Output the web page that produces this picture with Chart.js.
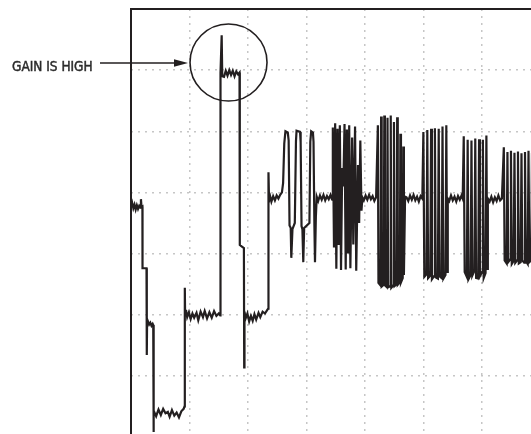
<!DOCTYPE html>
<html>
<head>
<meta charset="utf-8">
<title>Gain is high</title>
<script src="https://cdn.jsdelivr.net/npm/chart.js@4.4.1/dist/chart.umd.min.js"></script>
<style>
    html, body { margin: 0; padding: 0; background: #fff; overflow: hidden; }
    #scope { display: block; }
</style>
</head>
<body>
<canvas id="scope" width="560" height="460"></canvas>
<script>
// Trace: time and level in tenths of a division
const sampleTimes = [
    0, 0.2, 0.4, 0.6, 0.8, 1.0, 1.2, 1.4, 1.6, 1.7, 1.8, 1.95,
    1.97, 2.65, 2.7, 2.75, 2.9, 3.1, 3.3, 3.5, 3.7, 3.8,
    3.85, 3.87, 3.9, 4.3, 4.7, 5.1, 5.5, 5.9, 6.3, 6.6, 7.0, 7.4, 7.8, 8.2, 8.6, 9.0, 9.15,
    9.2, 9.25, 9.4, 9.6, 9.9, 10.2, 10.5, 10.8, 11.2, 11.5, 11.9, 12.3, 12.6, 13.0, 13.4, 13.8, 14.2, 14.6, 15.0, 15.25,
    15.3, 15.5, 15.6, 15.9, 16.2, 16.5, 16.8, 17.1, 17.4, 17.7, 18.0, 18.3, 18.55,
    18.6, 19.3, 19.35, 19.4, 19.6, 19.9, 20.2, 20.5, 20.8, 21.1, 21.4, 21.8, 22.1, 22.5, 22.9, 23.3, 23.45,
    23.5, 23.6, 23.8, 24.0, 24.3, 24.6, 24.9, 25.2, 25.5, 25.8,
    26.0, 26.2, 26.4, 26.8, 26.95, 27.1, 27.3, 27.4, 27.6,
    28.0, 28.2, 28.3, 28.9, 29.0, 29.15, 29.3, 29.45, 29.6,
    30.5, 30.65, 30.8, 31.1, 31.2, 31.35, 31.45, 31.6, 31.75,
    32.0, 32.3, 32.6, 32.9, 33.2, 33.5, 33.8, 34.1, 34.3,
    34.4, 34.5, 34.7, 34.9, 35.1, 35.3, 35.5, 35.7, 35.9, 36.1, 36.3, 36.5, 36.7, 36.9, 37.1, 37.3, 37.5, 37.8, 38.0, 38.3, 38.5, 38.8, 39.0, 39.2, 39.4, 39.55,
    39.8, 40.1, 40.4, 40.7, 41.0, 41.3, 41.6, 41.9,
    // burst 2
    42.2, 42.3,
    42.65, 42.75, 42.85,
    43.2, 43.3, 43.4,
    43.75, 43.85, 43.95,
    44.3, 44.4, 44.5,
    44.85, 44.95, 45.05,
    45.4, 45.5, 45.6,
    45.95, 46.05, 46.15,
    46.45, 46.55, 46.65,
    46.85,
    47.1, 47.4, 47.7, 48.0, 48.3, 48.6, 48.9, 49.2, 49.5, 49.8,
    // burst 3
    49.98, 50.14,
    50.51, 50.65, 50.79,
    51.16, 51.3, 51.44,
    51.81, 51.95, 52.09,
    52.46, 52.6, 52.74,
    53.11, 53.25, 53.39,
    53.76, 53.9, 54.04,
    54.15,
    54.4, 54.7, 55.0, 55.3, 55.6, 55.9, 56.2, 56.5, 56.7,
    // burst 4
    56.88, 57.04,
    57.41, 57.55, 57.69,
    58.06, 58.2, 58.34,
    58.71, 58.85, 58.99,
    59.36, 59.5, 59.64,
    60.01, 60.15, 60.29,
    60.61, 60.75, 60.89,
    61.0,
    61.3, 61.6, 61.9, 62.2, 62.5, 62.8, 63.1, 63.4,
    // burst 5
    63.73, 63.87,
    64.21, 64.35, 64.49,
    64.81, 64.95, 65.09,
    65.41, 65.55, 65.69,
    66.01, 66.15, 66.29,
    66.61, 66.75, 66.89,
    67.21, 67.35, 67.49,
    67.81, 67.95, 68.09,
    68.41, 68.55, 68.69,
    69.01, 69.15, 69.29,
    69.61, 69.75, 69.89,
    70.0
];

const sampleLevels = [
    37.6, 38.3, 37.4, 38.0, 37.2, 37.9, 37.3, 37.8, 37.5, 38.9, 37.6, 37.7,
    27.6, 27.6, 13.4, 18.8, 18.9, 18.4, 18.7, 18.2, 18.5, 18.3,
    3.6, 0.8, 4.3, 3.4, 4.5, 3.6, 4.6, 3.9, 4.1, 3.3, 4.4, 3.5, 4.0, 3.2, 4.2, 4.6, 5.0,
    24.4, 20.1, 20.8, 19.6, 20.4, 19.3, 20.2, 19.5, 20.3, 19.1, 20.5, 19.6, 20.6, 19.4, 20.4, 19.5, 20.6, 19.8, 20.2, 19.9,
    59.6, 65.7, 59.0, 58.9, 59.9, 59.1, 60.0, 59.2, 59.9, 59.0, 59.8, 59.3, 59.6,
    31.4, 30.9, 11.4, 20.5, 19.4, 20.2, 18.9, 19.8, 19.0, 20.1, 19.2, 20.3, 19.6, 20.5, 20.2, 20.8, 21.0,
    43.3, 38.6, 39.3, 38.5, 39.4, 38.7, 39.5, 39.0, 39.6, 40.0,
    41.5, 48.0, 50.0, 49.8, 48.5, 34.6, 34.2, 29.3, 34.0,
    35.0, 48.4, 50.1, 49.9, 48.2, 34.5, 34.0, 28.6, 34.2,
    35.0, 48.3, 50.0, 49.8, 48.3, 34.6, 28.6, 36.0, 39.3,
    38.6, 39.5, 38.8, 39.6, 38.7, 39.4, 38.9, 39.6, 39.0,
    38.8, 50.6, 31.0, 51.3, 27.5, 50.4, 31.4, 51.0, 27.3, 44.0, 41.0, 51.2, 27.4, 50.3, 30.0, 51.0, 27.6, 49.0, 31.5, 50.8, 27.2, 44.5, 35.0, 48.5, 37.0, 39.2,
    38.7, 39.5, 38.8, 39.6, 38.9, 39.4, 38.6, 39.2,
    // burst 2
    51.0, 25.2,
    24.8, 52.4, 24.6,
    24.9, 52.6, 24.8,
    24.5, 52.2, 24.5,
    24.7, 52.6, 24.4,
    24.8, 51.5, 24.7,
    25.0, 52.3, 24.9,
    25.3, 49.6, 25.3,
    26.0, 47.5, 26.5,
    39.3,
    39.2, 38.6, 39.5, 38.8, 39.6, 38.7, 39.3, 38.5, 39.4, 39.0,
    // burst 3
    49.9, 26.2,
    26.6, 50.2, 26.0,
    26.4, 50.4, 25.8,
    26.3, 50.5, 26.1,
    25.9, 50.4, 26.3,
    26.0, 50.8, 25.9,
    26.5, 51.0, 27.0,
    39.0,
    38.6, 39.5, 38.7, 39.3, 38.5, 39.4, 38.8, 39.5, 39.0,
    // burst 4
    49.2, 27.0,
    26.2, 48.6, 25.8,
    26.5, 48.5, 26.4,
    27.2, 48.8, 26.0,
    25.9, 48.7, 26.3,
    27.0, 48.6, 26.0,
    26.8, 49.3, 27.5,
    39.0,
    38.5, 39.3, 38.4, 39.2, 38.6, 39.5, 38.7, 39.0,
    // burst 5
    47.4, 28.9,
    28.4, 46.6, 28.6,
    29.0, 46.8, 28.3,
    28.8, 46.5, 28.5,
    28.9, 46.7, 28.4,
    28.6, 46.4, 28.9,
    28.5, 46.6, 28.8,
    28.3, 46.8, 28.6,
    28.9, 46.5, 28.4,
    28.7, 46.9, 28.5,
    28.8, 46.4, 28.6,
    30.0
];

// 7 x 7 divisions, no tick labels on the screen
const gridSteps = [0, 10, 20, 30, 40, 50, 60, 70];

// Callout around the overshoot
const noteLabel = 'GAIN IS HIGH';
const noteCenter = { x: 16.67, y: 61.25 };

const inkColor = '#231f20';
const gridColor = '#c6c6c6';

if (sampleTimes.length !== sampleLevels.length) {
    throw new Error('trace arrays differ: ' + sampleTimes.length + ' vs ' + sampleLevels.length);
}

const tracePoints = sampleTimes.map((t, i) => ({ x: t, y: sampleLevels[i] }));

// prefer a narrow face for the label if one is installed
function pickLabelFont(ctx) {
    const narrow = '15.5px "Liberation Sans Narrow"';
    ctx.font = narrow + ', monospace';
    const a = ctx.measureText(noteLabel).width;
    ctx.font = '15.5px monospace';
    const b = ctx.measureText(noteLabel).width;
    return a !== b ? narrow + ', sans-serif' : '13.5px "DejaVu Sans Condensed", sans-serif';
}

// Frame, circle, arrow and label drawn over the plot
const calloutPlugin = {
    id: 'callout',
    afterDraw(chart) {
        const { ctx, chartArea, scales } = chart;
        ctx.save();

        ctx.strokeStyle = inkColor;
        ctx.lineWidth = 2;
        ctx.strokeRect(chartArea.left, chartArea.top,
            chartArea.right - chartArea.left, chartArea.bottom - chartArea.top);

        const cx = scales.x.getPixelForValue(noteCenter.x);
        const cy = scales.y.getPixelForValue(noteCenter.y);
        const r = 38.5;
        ctx.lineWidth = 1.6;
        ctx.beginPath();
        ctx.arc(cx, cy, r, 0, Math.PI * 2);
        ctx.stroke();

        const arrowY = cy + 0.5;
        const tipX = cx - r - 2;
        ctx.beginPath();
        ctx.moveTo(100, arrowY);
        ctx.lineTo(tipX - 10, arrowY);
        ctx.stroke();
        ctx.fillStyle = inkColor;
        ctx.beginPath();
        ctx.moveTo(tipX, arrowY);
        ctx.lineTo(tipX - 14, arrowY - 3.8);
        ctx.lineTo(tipX - 14, arrowY + 3.8);
        ctx.closePath();
        ctx.fill();

        ctx.font = pickLabelFont(ctx);
        ctx.fillStyle = '#2b2b2b';
        ctx.strokeStyle = '#2b2b2b';
        ctx.lineWidth = 0.45;
        ctx.textBaseline = 'alphabetic';
        ctx.textAlign = 'left';
        ctx.fillText(noteLabel, 12, arrowY + 7.5);
        ctx.strokeText(noteLabel, 12, arrowY + 7.5);

        ctx.restore();
    }
};

const axisOptions = {
    type: 'linear',
    min: gridSteps[0],
    max: gridSteps[gridSteps.length - 1],
    afterBuildTicks: (scale) => {
        scale.ticks = gridSteps.map(v => ({ value: v }));
    },
    ticks: { display: false },
    grid: { color: gridColor, lineWidth: 1.5, drawTicks: false },
    border: { display: false, dash: [2, 5] }
};

new Chart(document.getElementById('scope'), {
    type: 'line',
    data: {
        datasets: [{
            data: tracePoints,
            borderColor: inkColor,
            borderWidth: 2.2,
            pointRadius: 0,
            tension: 0,
            fill: false
        }]
    },
    options: {
        responsive: false,
        animation: false,
        layout: { padding: { left: 131, top: 9, right: 19.5, bottom: 23 } },
        plugins: {
            legend: { display: false },
            tooltip: { enabled: false }
        },
        scales: {
            x: axisOptions,
            y: axisOptions
        }
    },
    plugins: [calloutPlugin]
});
</script>
</body>
</html>
